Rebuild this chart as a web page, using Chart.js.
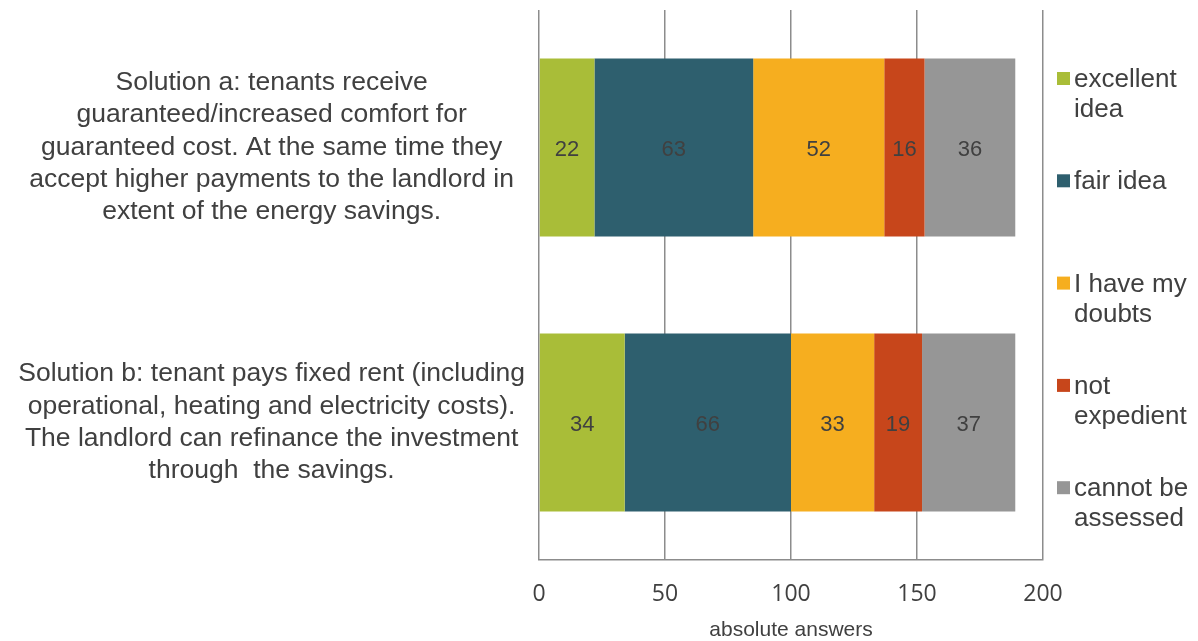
<!DOCTYPE html>
<html>
<head>
<meta charset="utf-8">
<script src="https://cdn.jsdelivr.net/npm/chart.js@4/dist/chart.umd.min.js"></script>
<style>
  html, body { margin: 0; padding: 0; background: #ffffff; }
  #wrap { width: 1198px; height: 641px; position: relative; }
</style>
</head>
<body>
<div id="wrap"><canvas id="chart" width="1198" height="641"></canvas></div>
<script>
// Survey answers per proposed solution
const categories = [
  ['Solution a: tenants receive', 'guaranteed/increased comfort for', 'guaranteed cost. At the same time they', 'accept higher payments to the landlord in', 'extent of the energy savings.'],
  ['Solution b: tenant pays fixed rent (including', 'operational, heating and electricity costs).', 'The landlord can refinance the investment', 'through  the savings.']
];
const seriesNames = ['excellent idea', 'fair idea', 'I have my doubts', 'not expedient', 'cannot be assessed'];
const legendLines = [['excellent', 'idea'], ['fair idea'], ['I have my', 'doubts'], ['not', 'expedient'], ['cannot be', 'assessed']];
const excellentIdea = [22, 34];
const fairIdea = [63, 66];
const haveDoubts = [52, 33];
const notExpedient = [16, 19];
const cannotAssess = [36, 37];
const xTicks = [0, 50, 100, 150, 200];
const colors = ['#a9bd38', '#2e5f6e', '#f6ae1f', '#c7461b', '#969696'];

const seriesValues = [excellentIdea, fairIdea, haveDoubts, notExpedient, cannotAssess];

// Writes each segment's value in the middle of its bar
const barValues = {
  id: 'barValues',
  afterDatasetsDraw(chart) {
    const ctx = chart.ctx;
    ctx.save();
    ctx.font = '22px "Liberation Sans", Arial, sans-serif';
    ctx.fillStyle = '#404040';
    ctx.textAlign = 'center';
    ctx.textBaseline = 'middle';
    chart.data.datasets.forEach((ds, i) => {
      chart.getDatasetMeta(i).data.forEach((bar, j) => {
        const p = bar.getProps(['x', 'y', 'base'], true);
        ctx.fillText(String(ds.data[j]), (p.x + p.base) / 2, p.y + 2);
      });
    });
    ctx.restore();
  }
};

// Legend on the right with wrapped labels
const sideLegend = {
  id: 'sideLegend',
  afterDraw(chart) {
    const ctx = chart.ctx;
    const area = chart.chartArea;
    ctx.save();
    ctx.font = '26px "Liberation Sans", Arial, sans-serif';
    ctx.textBaseline = 'middle';
    ctx.textAlign = 'left';
    const x0 = area.right + 14;
    const step = 102.3;
    chart.data.datasets.forEach((ds, i) => {
      const y = 78 + i * step;
      ctx.fillStyle = ds.backgroundColor;
      ctx.fillRect(x0, y - 6, 13, 13);
      ctx.fillStyle = '#404040';
      legendLines[i].forEach((line, k) => {
        ctx.fillText(line, x0 + 17, y + k * 30 + 2);
      });
    });
    ctx.restore();
  }
};

new Chart(document.getElementById('chart'), {
  type: 'bar',
  data: {
    labels: categories,
    datasets: seriesNames.map((name, i) => ({
      label: name,
      data: seriesValues[i],
      backgroundColor: colors[i],
      borderWidth: 0,
      categoryPercentage: 0.647,
      barPercentage: 1
    }))
  },
  plugins: [barValues, sideLegend],
  options: {
    indexAxis: 'y',
    responsive: false,
    animation: false,
    layout: { padding: { left: 0, right: 155, top: 10, bottom: 0 } },
    plugins: {
      legend: { display: false },
      tooltip: { enabled: false }
    },
    scales: {
      x: {
        stacked: true,
        min: 0,
        max: 200,
        afterBuildTicks(axis) { axis.ticks = xTicks.map(v => ({ value: v })); },
        afterFit(axis) {
          axis.height = 81;
          axis.paddingLeft = 0;
          axis.paddingRight = 0;
        },
        grid: { color: '#8c8c8c', lineWidth: 1.5, drawTicks: false },
        border: { color: '#8c8c8c', width: 1.5 },
        ticks: {
          padding: 21,
          color: '#404040',
          font: { family: '"Open Sans", sans-serif', size: 23 }
        },
        title: {
          display: true,
          text: 'absolute answers',
          color: '#404040',
          font: { family: '"Liberation Sans", Arial, sans-serif', size: 21 },
          padding: { top: 0, bottom: -2 }
        }
      },
      y: {
        stacked: true,
        afterFit(axis) {
          axis.width = 539;
          axis.paddingTop = 0;
          axis.paddingBottom = 0;
        },
        grid: { display: false, drawTicks: false },
        border: { display: false },
        ticks: {
          crossAlign: 'center',
          padding: 14,
          color: '#404040',
          font: { family: '"Liberation Sans", Arial, sans-serif', size: 26.5, lineHeight: 1.22 }
        }
      }
    }
  }
});
</script>
</body>
</html>
